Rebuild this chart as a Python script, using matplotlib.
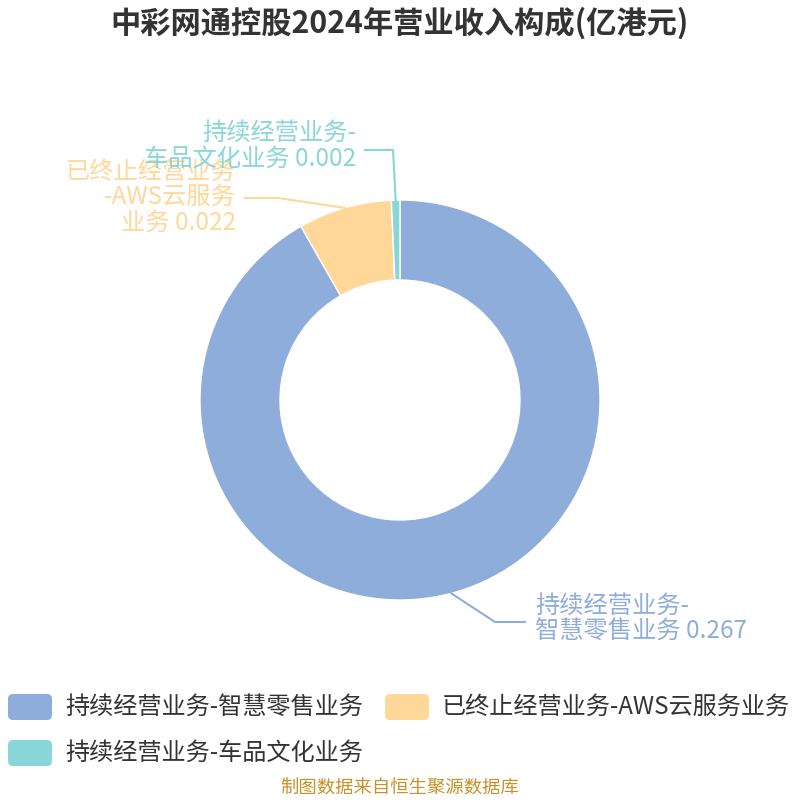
import numpy as np
import matplotlib

matplotlib.use("Agg")

import matplotlib.pyplot as plt
from matplotlib.patches import FancyBboxPatch

plt.rcParams["font.family"] = ["Noto Sans CJK SC", "DejaVu Sans"]

TITLE = "中彩网通控股2024年营业收入构成(亿港元)"
SOURCE = "制图数据来自恒生聚源数据库"
categories = ["持续经营业务-智慧零售业务", "已终止经营业务-AWS云服务业务", "持续经营业务-车品文化业务"]
values = [0.267, 0.022, 0.002]
slice_labels = ["持续经营业务-\n智慧零售业务 0.267", "已终止经营业务\n-AWS云服务\n业务 0.022", "持续经营业务-\n车品文化业务 0.002"]
colors = ["#8FADDA", "#FFD799", "#88D6D7"]

W = H = 800
CX, CY = 400, 400
R_OUT, R_IN = 200, 120


def py(y):
    """Convert a pixel row (from the top) into the axes y value."""
    return H - y


fig = plt.figure(figsize=(8, 8), dpi=100)
ax = fig.add_axes([0, 0, 1, 1])
wedges, _ = ax.pie(
    values,
    colors=colors,
    startangle=90,
    counterclock=False,
    radius=R_OUT,
    center=(CX, CY),
    wedgeprops=dict(width=R_OUT - R_IN, edgecolor="white", linewidth=1),
)
ax.set_xlim(0, W)
ax.set_ylim(0, H)
ax.set_aspect("equal")
ax.axis("off")

# leader lines: anchor on the outer edge at each wedge's mid angle
elbows = [(495, 622, 525), (278, 198, 245), (393, 150, 365)]
text_pos = [(535, 619, "left"), (236, 197, "right"), (356, 146, "right")]
for wedge, color, label, (ex, ey, hx), (tx, ty, ha) in zip(
    wedges, colors, slice_labels, elbows, text_pos
):
    mid = np.deg2rad((wedge.theta1 + wedge.theta2) / 2)
    ax0 = CX + R_OUT * np.cos(mid)
    ay0 = CY + R_OUT * np.sin(mid)
    ax.plot([ax0, ex, hx], [ay0, py(ey), py(ey)], color=color, lw=1.5,
            solid_joinstyle="miter")
    ax.text(tx, py(ty), label, ha=ha, va="center", color=color,
            fontsize=17.5, linespacing=0.98, multialignment=ha)

ax.text(400, py(23), TITLE, ha="center", va="center", fontsize=21.8,
        fontweight="bold", color="#333333")

# legend
legend_pos = [(8, 707), (385, 707), (8, 753)]
for name, color, (lx, ly) in zip(categories, colors, legend_pos):
    box = FancyBboxPatch((lx, py(ly) - 13), 44, 26,
                         boxstyle="round,pad=0,rounding_size=5",
                         fc=color, ec="none")
    ax.add_patch(box)
    ax.text(lx + 57, py(ly), name, ha="left", va="center",
            fontsize=17.4, color="#333333")

ax.text(400, py(789), SOURCE, ha="center", va="center", fontsize=13.2,
        color="#C8912A")

fig.savefig("out.png", dpi=100)
